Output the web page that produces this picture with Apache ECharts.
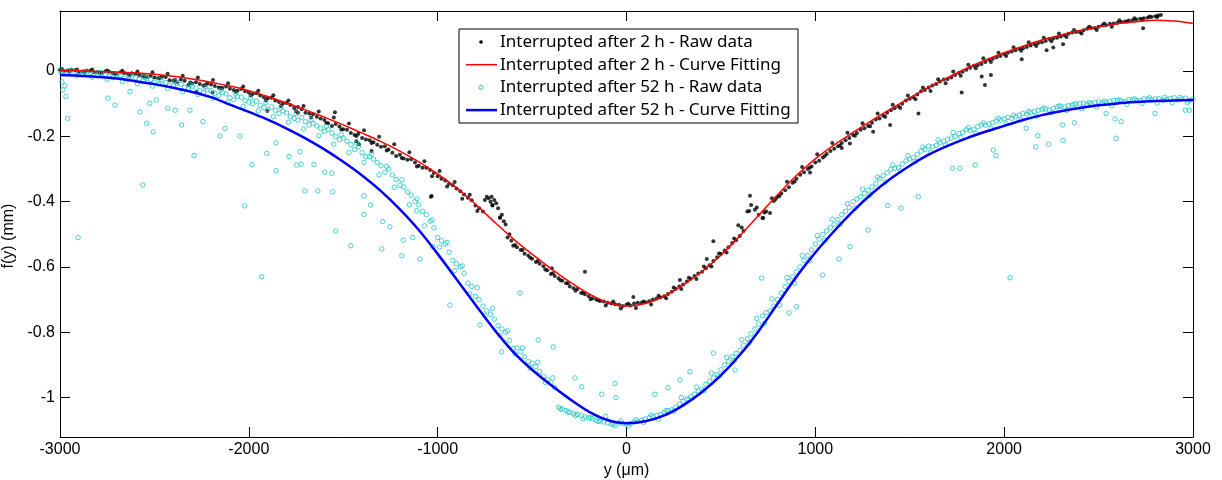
<!DOCTYPE html>
<html>
<head>
<meta charset="utf-8">
<script src="https://cdn.jsdelivr.net/npm/echarts@6/dist/echarts.min.js"></script>
<style>html,body{margin:0;padding:0;background:#fff;}#chart{width:1222px;height:480px;}</style>
</head>
<body>
<div id="chart"></div>
<script>
// ---- Data ----
const xTicks = [-3000, -2000, -1000, 0, 1000, 2000, 3000];
const yTicks = [-1, -0.8, -0.6, -0.4, -0.2, 0];

const seriesNames = [
  'Interrupted after 2 h - Raw data',
  'Interrupted after 2 h - Curve Fitting',
  'Interrupted after 52 h - Raw data',
  'Interrupted after 52 h - Curve Fitting'
];

const fitX = [-3000,-2900,-2800,-2700,-2600,-2500,-2400,-2300,-2200,-2100,-2000,-1900,-1800,-1700,-1600,-1500,-1400,-1300,-1200,-1100,-1000,-900,-800,-700,-600,-500,-400,-300,-200,-100,0,100,200,300,400,500,600,700,800,900,1000,1100,1200,1300,1400,1500,1600,1700,1800,1900,2000,2100,2200,2300,2400,2500,2600,2700,2800,2900,3000];
const fit2h = [0.002,0.001,-0.001,-0.003,-0.006,-0.010,-0.016,-0.024,-0.034,-0.046,-0.060,-0.078,-0.098,-0.119,-0.141,-0.165,-0.190,-0.216,-0.245,-0.278,-0.315,-0.358,-0.408,-0.462,-0.514,-0.561,-0.605,-0.646,-0.682,-0.709,-0.720,-0.712,-0.689,-0.655,-0.614,-0.564,-0.505,-0.442,-0.379,-0.320,-0.269,-0.226,-0.188,-0.151,-0.116,-0.082,-0.050,-0.020,0.008,0.033,0.056,0.076,0.095,0.110,0.124,0.135,0.145,0.151,0.156,0.153,0.146];
const fit52h = [-0.012,-0.014,-0.018,-0.023,-0.031,-0.040,-0.051,-0.064,-0.080,-0.103,-0.125,-0.149,-0.176,-0.206,-0.240,-0.278,-0.320,-0.368,-0.424,-0.487,-0.560,-0.638,-0.716,-0.792,-0.860,-0.915,-0.962,-1.005,-1.043,-1.069,-1.079,-1.073,-1.055,-1.024,-0.983,-0.932,-0.870,-0.796,-0.713,-0.630,-0.556,-0.490,-0.429,-0.375,-0.329,-0.290,-0.256,-0.229,-0.206,-0.186,-0.168,-0.150,-0.135,-0.123,-0.113,-0.105,-0.099,-0.095,-0.092,-0.090,-0.089];

const raw2h = [
[-3000,0.004],[-2960,0.002],[-2920,0.003],[-2880,-0.001],[-2840,0.001],
[-2800,-0.003],[-2760,-0.001],[-2720,-0.006],[-2680,-0.004],[-2640,-0.010],
[-2600,-0.009],[-2560,-0.016],[-2520,-0.014],[-2480,-0.022],[-2440,-0.018],
[-2400,-0.030],[-2360,-0.026],[-2320,-0.042],[-2280,-0.034],[-2240,-0.045],
[-2200,-0.041],[-2160,-0.050],[-2120,-0.047],[-2080,-0.058],[-2040,-0.055],
[-2000,-0.066],[-1960,-0.068],[-1920,-0.080],[-1880,-0.082],[-1840,-0.095],
[-1800,-0.098],[-1760,-0.113],[-1720,-0.117],[-1680,-0.130],[-1640,-0.140],
[-1600,-0.150],[-1560,-0.168],[-1520,-0.170],[-1480,-0.180],[-1440,-0.196],
[-1400,-0.205],[-1360,-0.212],[-1320,-0.226],[-1280,-0.230],[-1240,-0.250],
[-1200,-0.256],[-1160,-0.272],[-1120,-0.280],[-1080,-0.296],[-1040,-0.303],
[-1000,-0.322],[-960,-0.335],[-920,-0.350],[-880,-0.368],[-840,-0.388],
[-800,-0.412],[-760,-0.430],[-720,-0.400],[-680,-0.420],[-640,-0.470],
[-740,-0.385],[-700,-0.395],[-660,-0.440],[-620,-0.500],[-710,-0.410],[-670,-0.450],
[-600,-0.535],[-560,-0.548],[-520,-0.565],[-480,-0.585],[-440,-0.598],
[-400,-0.622],[-360,-0.635],[-320,-0.650],[-280,-0.665],[-240,-0.680],
[-200,-0.690],[-160,-0.700],[-120,-0.706],[-80,-0.712],[-40,-0.716],
[0,-0.716],[40,-0.712],[80,-0.710],[120,-0.705],[160,-0.697],
[200,-0.690],[240,-0.676],[280,-0.660],[320,-0.645],[360,-0.628],
[400,-0.615],[440,-0.595],[480,-0.570],[520,-0.550],[560,-0.527],
[600,-0.505],[620,-0.490],[640,-0.430],[660,-0.410],[680,-0.425],[700,-0.440],[720,-0.450],[740,-0.430],[760,-0.435],[780,-0.398],
[800,-0.385],[840,-0.365],[880,-0.342],[920,-0.318],[960,-0.300],
[1000,-0.280],[1040,-0.265],[1080,-0.245],[1120,-0.230],[1160,-0.212],
[1200,-0.196],[1240,-0.180],[1280,-0.168],[1320,-0.148],[1360,-0.137],
[1400,-0.120],[1440,-0.108],[1480,-0.090],[1520,-0.080],[1560,-0.062],
[1600,-0.050],[1640,-0.040],[1680,-0.026],[1720,-0.020],[1760,-0.006],
[1800,0.004],[1840,0.016],[1880,0.022],[1920,0.035],[1960,0.042],
[2000,0.052],[2040,0.060],[2080,0.068],[2120,0.074],[2160,0.083],
[2200,0.088],[2240,0.098],[2280,0.102],[2320,0.110],[2360,0.118],
[2400,0.120],[2440,0.130],[2480,0.132],[2520,0.140],[2560,0.145],
[2600,0.148],[2640,0.152],[2680,0.156],[2720,0.160],[2760,0.163],[2800,0.168],[2830,0.172],
[-2980,0.001],[-2940,0.004],[-2900,-0.002],[-2860,0.002],[-2820,-0.004],
[-2780,-0.005],[-2740,-0.002],[-2700,-0.008],[-2660,-0.006],[-2620,-0.007],
[-2580,-0.012],[-2540,-0.018],[-2500,-0.020],[-2460,-0.017],[-2420,-0.028],
[-2380,-0.034],[-2340,-0.030],[-2300,-0.038],[-2260,-0.040],[-2220,-0.038],
[-2180,-0.046],[-2140,-0.052],[-2100,-0.054],[-2060,-0.060],[-2020,-0.062],
[-1980,-0.070],[-1940,-0.075],[-1900,-0.083],[-1860,-0.090],[-1820,-0.100],
[-1780,-0.104],[-1740,-0.110],[-1700,-0.128],[-1660,-0.132],[-1620,-0.145],
[-1580,-0.160],[-1540,-0.162],[-1500,-0.178],[-1460,-0.190],[-1420,-0.192],
[-1380,-0.210],[-1340,-0.218],[-1300,-0.232],[-1260,-0.240],[-1220,-0.260],
[-1180,-0.268],[-1140,-0.270],[-1100,-0.290],[-1060,-0.296],[-1020,-0.312],
[-980,-0.330],[-940,-0.345],[-900,-0.360],[-860,-0.378],[-820,-0.396],
[-780,-0.420],[-730,-0.390],[-690,-0.405],[-650,-0.460],[-610,-0.520],
[-580,-0.540],[-540,-0.560],[-500,-0.575],[-460,-0.590],[-420,-0.610],
[-380,-0.628],[-340,-0.642],[-300,-0.660],[-260,-0.668],[-220,-0.684],
[-180,-0.696],[-140,-0.704],[-100,-0.710],[-60,-0.714],[-20,-0.720],
[20,-0.718],[60,-0.710],[100,-0.708],[140,-0.700],[180,-0.694],
[220,-0.683],[260,-0.668],[300,-0.654],[340,-0.636],[380,-0.620],
[420,-0.604],[460,-0.582],[500,-0.560],[540,-0.540],[580,-0.518],
[790,-0.392],[820,-0.375],[860,-0.356],[900,-0.330],[940,-0.310],[980,-0.292],
[1020,-0.275],[1060,-0.254],[1100,-0.238],[1140,-0.220],[1180,-0.205],
[1220,-0.190],[1260,-0.175],[1300,-0.158],[1340,-0.145],[1380,-0.128],
[1420,-0.114],[1460,-0.100],[1500,-0.085],[1540,-0.072],[1580,-0.058],
[1620,-0.044],[1660,-0.032],[1700,-0.024],[1740,-0.012],[1780,-0.002],
[1820,0.010],[1860,0.018],[1900,0.028],[1940,0.038],[1980,0.046],
[2020,0.056],[2060,0.064],[2100,0.070],[2140,0.078],[2180,0.086],
[2220,0.092],[2260,0.100],[2300,0.106],[2340,0.114],[2380,0.120],
[2420,0.125],[2460,0.132],[2500,0.136],[2540,0.140],[2580,0.146],
[2620,0.150],[2660,0.155],[2700,0.158],[2740,0.162],[2780,0.166],[2815,0.170],
[-2990,0.006],[-2950,-0.003],[-2910,0.005],[-2870,-0.005],[-2830,0.005],[-2790,-0.007],[-2750,0.002],[-2710,-0.009],
[-2670,0.001],[-2630,-0.012],[-2590,-0.001],[-2550,-0.016],[-2510,-0.004],[-2470,-0.021],[-2430,-0.008],[-2390,-0.027],
[-2350,-0.014],[-2310,-0.035],[-2270,-0.020],[-2230,-0.043],[-2190,-0.027],[-2150,-0.052],[-2110,-0.037],[-2070,-0.063],
[-2030,-0.047],[-1990,-0.075],[-1950,-0.060],[-1910,-0.090],[-1870,-0.074],[-1830,-0.107],[-1790,-0.090],[-1750,-0.123],
[-1710,-0.107],[-1670,-0.142],[-1630,-0.124],[-1590,-0.159],[-1550,-0.142],[-1510,-0.179],[-1470,-0.161],[-1430,-0.199],
[-1390,-0.181],[-1350,-0.220],[-1310,-0.201],[-1270,-0.243],[-1230,-0.224],[-1190,-0.266],[-1150,-0.249],[-1110,-0.292],
[-1070,-0.276],[-1030,-0.322],[-990,-0.306],[-950,-0.354],[-910,-0.340],[-870,-0.391],[-830,-0.379],[-790,-0.429],
[-750,-0.395],[-710,-0.412],[-670,-0.448],[-630,-0.510],[-590,-0.533],[-550,-0.548],[-510,-0.572],[-470,-0.582],
[-430,-0.608],[-390,-0.619],[-350,-0.641],[-310,-0.650],[-270,-0.673],[-230,-0.679],[-190,-0.699],[-150,-0.702],
[-110,-0.718],[-70,-0.706],[-30,-0.727],[10,-0.713],[50,-0.726],[90,-0.706],[130,-0.715],[170,-0.688],
[210,-0.696],[250,-0.663],[290,-0.668],[330,-0.633],[370,-0.637],[410,-0.599],[450,-0.599],[490,-0.559],
[530,-0.556],[570,-0.513],[610,-0.479],[650,-0.429],[690,-0.418],[730,-0.433],[770,-0.390],[810,-0.383],
[850,-0.339],[890,-0.338],[930,-0.294],[970,-0.296],[1010,-0.255],[1050,-0.260],[1090,-0.220],[1130,-0.228],
[1170,-0.189],[1210,-0.198],[1250,-0.160],[1290,-0.169],[1330,-0.130],[1370,-0.140],[1410,-0.103],[1450,-0.113],
[1490,-0.075],[1530,-0.086],[1570,-0.050],[1610,-0.061],[1650,-0.025],[1690,-0.037],[1730,-0.001],[1770,-0.014],
[1810,0.019],[1850,0.009],[1890,0.039],[1930,0.028],[1970,0.056],[2010,0.046],[2050,0.073],[2090,0.062],
[2130,0.088],[2170,0.077],[2210,0.102],[2250,0.091],[2290,0.115],[2330,0.104],[2370,0.126],[2410,0.115],
[2450,0.136],[2490,0.126],[2530,0.146],[2570,0.136],[2610,0.156],[2650,0.152],[2690,0.162],[2730,0.159],
[2770,0.167],[2810,0.166],
[-2276,-0.063],[-2192,-0.066],[-1902,-0.122],[-1740,-0.128],[-1544,-0.126],
[-1417,-0.224],[-1430,-0.215],[-1350,-0.245],[-1036,-0.385],[-1032,-0.383],
[-714,-0.385],[-396,-0.604],[-220,-0.615],[36,-0.692],[283,-0.640],
[425,-0.576],[460,-0.521],[592,-0.472],[654,-0.382],[724,-0.450],
[972,-0.311],[1140,-0.236],[1183,-0.222],[1306,-0.186],[1396,-0.165],
[1546,-0.130],[1775,-0.066],[1881,-0.017],[1898,-0.043],[1930,-0.012],
[2093,0.036],[2225,0.064],[2260,0.072],[2312,0.082],[2736,0.131]
];

const raw52h = [
[-3000,0.002],[-2960,-0.004],[-2920,0.000],[-2880,-0.008],[-2840,-0.005],
[-2800,-0.012],[-2760,-0.010],[-2720,-0.020],[-2680,-0.014],[-2640,-0.026],
[-2600,-0.020],[-2560,-0.030],[-2520,-0.026],[-2480,-0.040],[-2440,-0.035],
[-2400,-0.045],[-2360,-0.040],[-2320,-0.055],[-2280,-0.052],[-2240,-0.066],
[-2200,-0.060],[-2160,-0.075],[-2120,-0.070],[-2080,-0.088],[-2040,-0.080],
[-2000,-0.095],[-1960,-0.092],[-1920,-0.112],[-1880,-0.110],[-1840,-0.130],
[-1800,-0.128],[-1760,-0.145],[-1720,-0.142],[-1680,-0.165],[-1640,-0.168],
[-1600,-0.185],[-1560,-0.190],[-1520,-0.210],[-1480,-0.215],[-1440,-0.240],
[-1400,-0.250],[-1360,-0.262],[-1320,-0.280],[-1280,-0.310],[-1240,-0.318],
[-1200,-0.350],[-1160,-0.370],[-1120,-0.400],[-1080,-0.430],[-1040,-0.460],
[-1000,-0.510],[-960,-0.530],[-920,-0.580],[-880,-0.600],[-840,-0.650],
[-800,-0.690],[-760,-0.720],[-720,-0.745],[-680,-0.780],[-640,-0.800],
[-600,-0.850],[-560,-0.860],[-520,-0.890],[-480,-0.905],[-440,-0.935],
[-400,-0.955],[-360,-1.030],[-320,-1.040],[-280,-1.050],[-240,-1.055],
[-200,-1.062],[-160,-1.070],[-120,-1.075],[-80,-1.082],[-40,-1.078],
[0,-1.082],[40,-1.075],[80,-1.070],[120,-1.062],[160,-1.055],
[200,-1.045],[240,-1.038],[280,-1.020],[320,-1.005],[360,-0.990],
[400,-0.975],[440,-0.950],[480,-0.930],[520,-0.900],[560,-0.875],
[600,-0.855],[640,-0.820],[680,-0.790],[720,-0.750],[760,-0.735],
[800,-0.700],[840,-0.660],[880,-0.630],[920,-0.600],[960,-0.565],
[1000,-0.530],[1040,-0.500],[1080,-0.480],[1120,-0.455],[1160,-0.430],
[1200,-0.400],[1240,-0.385],[1280,-0.365],[1320,-0.345],[1360,-0.320],
[1400,-0.300],[1440,-0.295],[1480,-0.275],[1520,-0.265],[1560,-0.245],
[1600,-0.230],[1640,-0.228],[1680,-0.215],[1720,-0.205],[1760,-0.192],
[1800,-0.180],[1840,-0.178],[1880,-0.165],[1920,-0.162],[1960,-0.152],
[2000,-0.146],[2040,-0.145],[2080,-0.135],[2120,-0.132],[2160,-0.124],
[2200,-0.118],[2240,-0.120],[2280,-0.110],[2320,-0.110],[2360,-0.104],
[2400,-0.100],[2440,-0.103],[2480,-0.096],[2520,-0.098],[2560,-0.092],
[2600,-0.090],[2640,-0.094],[2680,-0.088],[2720,-0.090],[2760,-0.086],
[2800,-0.085],[2840,-0.090],[2880,-0.084],[2920,-0.088],[2960,-0.083],[3000,-0.086],
[-2980,-0.002],[-2940,0.003],[-2900,-0.006],[-2860,-0.003],[-2820,-0.012],
[-2780,-0.006],[-2740,-0.016],[-2700,-0.012],[-2660,-0.022],[-2620,-0.018],
[-2580,-0.025],[-2540,-0.022],[-2500,-0.035],[-2460,-0.030],[-2420,-0.044],
[-2380,-0.038],[-2340,-0.050],[-2300,-0.046],[-2260,-0.060],[-2220,-0.058],
[-2180,-0.068],[-2140,-0.065],[-2100,-0.082],[-2060,-0.078],[-2020,-0.090],
[-1980,-0.100],[-1940,-0.105],[-1900,-0.118],[-1860,-0.120],[-1820,-0.122],
[-1780,-0.140],[-1740,-0.150],[-1700,-0.155],[-1660,-0.160],[-1620,-0.175],
[-1580,-0.178],[-1540,-0.200],[-1500,-0.205],[-1460,-0.225],[-1420,-0.232],
[-1380,-0.262],[-1340,-0.270],[-1300,-0.290],[-1260,-0.300],[-1220,-0.332],
[-1180,-0.355],[-1140,-0.380],[-1100,-0.410],[-1060,-0.440],[-1020,-0.480],
[-980,-0.520],[-940,-0.555],[-900,-0.590],[-860,-0.620],[-820,-0.660],
[-780,-0.700],[-740,-0.735],[-700,-0.760],[-660,-0.790],[-620,-0.825],
[-580,-0.848],[-540,-0.875],[-500,-0.895],[-460,-0.920],[-420,-0.945],
[-380,-0.970],[-340,-1.035],[-300,-1.045],[-260,-1.052],[-220,-1.060],
[-180,-1.065],[-140,-1.072],[-100,-1.078],[-60,-1.085],[-20,-1.080],
[20,-1.080],[60,-1.074],[100,-1.066],[140,-1.058],[180,-1.052],
[220,-1.040],[260,-1.030],[300,-1.012],[340,-0.998],[380,-0.980],
[420,-0.960],[460,-0.940],[500,-0.915],[540,-0.890],[580,-0.865],
[620,-0.840],[660,-0.805],[700,-0.775],[740,-0.740],[780,-0.720],
[820,-0.680],[860,-0.645],[900,-0.615],[940,-0.580],[980,-0.548],
[1020,-0.515],[1060,-0.490],[1100,-0.470],[1140,-0.440],[1180,-0.418],
[1220,-0.392],[1260,-0.375],[1300,-0.355],[1340,-0.330],[1380,-0.312],
[1420,-0.298],[1460,-0.285],[1500,-0.270],[1540,-0.255],[1580,-0.240],
[1620,-0.232],[1660,-0.220],[1700,-0.210],[1740,-0.200],[1780,-0.188],
[1820,-0.182],[1860,-0.170],[1900,-0.166],[1940,-0.158],[1980,-0.150],
[2020,-0.142],[2060,-0.140],[2100,-0.130],[2140,-0.128],[2180,-0.120],
[2220,-0.116],[2260,-0.114],[2300,-0.108],[2340,-0.106],[2380,-0.100],
[2420,-0.098],[2460,-0.100],[2500,-0.094],[2540,-0.095],[2580,-0.090],
[2620,-0.092],[2660,-0.087],[2700,-0.090],[2740,-0.085],[2780,-0.088],
[2820,-0.084],[2860,-0.087],[2900,-0.082],[2940,-0.085],[2980,-0.090],
[-2990,-0.006],[-2950,0.002],[-2910,-0.014],[-2870,-0.001],[-2830,-0.019],[-2790,-0.004],[-2750,-0.025],[-2710,-0.009],
[-2670,-0.032],[-2630,-0.014],[-2590,-0.039],[-2550,-0.020],[-2510,-0.046],[-2470,-0.026],[-2430,-0.054],[-2390,-0.033],
[-2350,-0.063],[-2310,-0.042],[-2270,-0.072],[-2230,-0.050],[-2190,-0.083],[-2150,-0.059],[-2110,-0.095],[-2070,-0.070],
[-2030,-0.108],[-1990,-0.082],[-1950,-0.122],[-1910,-0.097],[-1870,-0.140],[-1830,-0.112],[-1790,-0.157],[-1750,-0.130],
[-1710,-0.177],[-1670,-0.149],[-1630,-0.198],[-1590,-0.170],[-1550,-0.224],[-1510,-0.195],[-1470,-0.250],[-1430,-0.220],
[-1390,-0.280],[-1350,-0.254],[-1310,-0.318],[-1270,-0.292],[-1230,-0.356],[-1190,-0.333],[-1150,-0.410],[-1110,-0.392],
[-1070,-0.474],[-1030,-0.456],[-990,-0.539],[-950,-0.525],[-910,-0.611],[-870,-0.597],[-830,-0.683],[-790,-0.663],
[-750,-0.750],[-710,-0.727],[-670,-0.809],[-630,-0.796],[-590,-0.866],[-550,-0.848],[-510,-0.910],[-470,-0.892],
[-430,-0.954],[-390,-0.940],[-350,-1.035],[-310,-1.045],[-270,-1.055],[-230,-1.065],[-190,-1.062],[-150,-1.073],
[-110,-1.058],[-70,-1.081],[-30,-1.072],[10,-1.087],[50,-1.068],[90,-1.076],[130,-1.054],[170,-1.067],
[210,-1.040],[250,-1.042],[290,-1.000],[330,-1.005],[370,-0.968],[410,-0.979],[450,-0.925],[490,-0.934],
[530,-0.877],[570,-0.888],[610,-0.823],[650,-0.833],[690,-0.758],[730,-0.773],[770,-0.698],[810,-0.717],
[850,-0.633],[890,-0.649],[930,-0.565],[970,-0.581],[1010,-0.504],[1050,-0.519],[1090,-0.454],[1130,-0.469],
[1170,-0.406],[1210,-0.420],[1250,-0.362],[1290,-0.380],[1330,-0.325],[1370,-0.340],[1410,-0.288],[1450,-0.306],
[1490,-0.259],[1530,-0.277],[1570,-0.233],[1610,-0.249],[1650,-0.211],[1690,-0.226],[1730,-0.188],[1770,-0.203],
[1810,-0.173],[1850,-0.190],[1890,-0.159],[1930,-0.176],[1970,-0.145],[2010,-0.161],[2050,-0.135],[2090,-0.149],
[2130,-0.124],[2170,-0.138],[2210,-0.113],[2250,-0.128],[2290,-0.107],[2330,-0.121],[2370,-0.102],[2410,-0.115],
[2450,-0.096],[2490,-0.110],[2530,-0.092],[2570,-0.106],[2610,-0.088],[2650,-0.102],[2690,-0.085],[2730,-0.099],
[2770,-0.082],[2810,-0.098],[2850,-0.081],[2890,-0.097],[2930,-0.081],[2970,-0.096],
[-2990,-0.033],[-2985,-0.058],[-2974,-0.045],[-2969,-0.078],[-2960,-0.145],[-2904,-0.510],
[-2746,-0.083],[-2709,-0.104],[-2629,-0.063],[-2577,-0.125],[-2562,-0.349],[-2541,-0.160],
[-2524,-0.099],[-2506,-0.186],[-2490,-0.089],[-2430,-0.114],[-2390,-0.120],[-2356,-0.165],
[-2312,-0.120],[-2290,-0.259],[-2243,-0.155],[-2153,-0.199],[-2126,-0.176],[-2047,-0.200],
[-2022,-0.413],[-1983,-0.287],[-1932,-0.630],[-1905,-0.252],[-1856,-0.220],[-1855,-0.305],
[-1787,-0.262],[-1747,-0.288],[-1729,-0.247],[-1723,-0.285],[-1703,-0.367],[-1655,-0.286],
[-1635,-0.367],[-1598,-0.310],[-1561,-0.313],[-1556,-0.370],[-1540,-0.490],[-1460,-0.535],
[-1390,-0.382],[-1390,-0.439],[-1355,-0.410],[-1296,-0.545],[-1291,-0.461],[-1253,-0.477],
[-1190,-0.566],[-1182,-0.518],[-1132,-0.510],[-1111,-0.428],[-1094,-0.576],[-1025,-0.538],
[-935,-0.717],[-776,-0.778],[-661,-0.860],[-564,-0.680],[-468,-0.824],[-388,-0.845],
[-273,-0.940],[-237,-0.967],[-131,-0.990],[-61,-0.957],[-56,-1.000],[151,-0.990],
[220,-0.970],[283,-0.946],[336,-0.921],[460,-0.864],[575,-0.916],[716,-0.634],
[861,-0.741],[901,-0.722],[1039,-0.625],[1125,-0.576],[1184,-0.538],[1280,-0.487],
[1383,-0.412],[1454,-0.420],[1546,-0.385],[1727,-0.298],[1766,-0.298],[1846,-0.288],
[1943,-0.242],[1957,-0.259],[2031,-0.633],[2117,-0.175],[2167,-0.232],[2178,-0.198],
[2236,-0.224],[2310,-0.165],[2312,-0.213],[2372,-0.158],[2540,-0.130],[2587,-0.147],
[2593,-0.206],[2619,-0.155],[2799,-0.130],[2960,-0.120],[2980,-0.120]
];

// ---- Chart ----
const FONT = '"Liberation Sans", Arial, sans-serif';
const LEGEND_FONT = '17px "Noto Sans", "Liberation Sans", Arial, sans-serif';
const CYAN = '#1fc4c4';
const chart = echarts.init(document.getElementById('chart'), null, {renderer: 'canvas'});

function zip(xs, ys) { return xs.map((x, i) => [x, ys[i]]); }

const baseX = {
  type: 'value', min: -3000, max: 3000, interval: 1000,
  splitLine: {show: false},
  axisLine: {onZero: false, lineStyle: {color: '#000', width: 1}},
  axisTick: {inside: true, length: 10, lineStyle: {color: '#000'}}
};
const baseY = {
  type: 'value', min: -1.121, max: 0.184,
  splitLine: {show: false},
  axisLine: {onZero: false, lineStyle: {color: '#000', width: 1}},
  axisTick: {inside: true, length: 10, customValues: yTicks, lineStyle: {color: '#000'}}
};

const legendTop = 29, legendLeft = 459, rowH = 22.7;
const legendGraphics = [
  {type: 'rect', shape: {x: legendLeft, y: legendTop, width: 339, height: 94},
   style: {fill: '#fff', stroke: '#000', lineWidth: 1}, z: 100},
  {type: 'circle', shape: {cx: 481, cy: legendTop + 13, r: 1.8}, style: {fill: '#000'}, z: 101},
  {type: 'line', shape: {x1: 466, y1: legendTop + 13 + rowH, x2: 497, y2: legendTop + 13 + rowH},
   style: {stroke: '#ff0000', lineWidth: 1.5}, z: 101},
  {type: 'circle', shape: {cx: 481, cy: legendTop + 13 + 2 * rowH, r: 2},
   style: {fill: 'none', stroke: CYAN, lineWidth: 1}, z: 101},
  {type: 'line', shape: {x1: 466, y1: legendTop + 13 + 3 * rowH, x2: 497, y2: legendTop + 13 + 3 * rowH},
   style: {stroke: '#0000ff', lineWidth: 2.5}, z: 101}
];
seriesNames.forEach((n, i) => {
  legendGraphics.push({
    type: 'text', x: 500, y: legendTop + 13 + i * rowH, z: 101,
    style: {text: n, fill: '#000', font: LEGEND_FONT, textVerticalAlign: 'middle', textAlign: 'left'}
  });
});

const option = {
  backgroundColor: '#fff',
  animation: false,
  textStyle: {fontFamily: FONT},
  grid: {left: 60, right: 29, top: 11, bottom: 43, outerBoundsMode: 'none'},
  xAxis: [
    Object.assign({}, baseX, {
      position: 'bottom',
      name: 'y (\u03bcm)', nameLocation: 'middle', nameGap: 20,
      nameTextStyle: {color: '#000', fontSize: 16, fontFamily: FONT},
      axisLabel: {color: '#000', fontSize: 16, margin: 5, fontFamily: FONT,
        customValues: xTicks, formatter: v => String(v)}
    }),
    Object.assign({}, baseX, {position: 'top', axisLabel: {show: false}})
  ],
  yAxis: [
    Object.assign({}, baseY, {
      position: 'left',
      name: 'f(y) (mm)', nameLocation: 'middle', nameGap: 32, nameRotate: 90,
      nameTextStyle: {color: '#000', fontSize: 16, fontFamily: FONT, padding: [0, 24, 0, 0]},
      axisLabel: {color: '#000', fontSize: 16, margin: 5, fontFamily: FONT, customValues: yTicks,
        formatter: v => String(v)}
    }),
    Object.assign({}, baseY, {position: 'right', axisLabel: {show: false}})
  ],
  graphic: legendGraphics,
  series: [
    {name: seriesNames[0], type: 'scatter', data: raw2h, symbol: 'circle', symbolSize: 4,
     itemStyle: {color: '#000'}, xAxisIndex: 0, yAxisIndex: 0, silent: true},
    {name: seriesNames[1], type: 'line', data: zip(fitX, fit2h), symbol: 'none', smooth: 0.3,
     lineStyle: {color: '#ff0000', width: 1.5}, xAxisIndex: 0, yAxisIndex: 0, silent: true},
    {name: seriesNames[2], type: 'scatter', data: raw52h, symbol: 'circle', symbolSize: 4.5,
     itemStyle: {color: 'rgba(0,0,0,0)', borderColor: CYAN, borderWidth: 1}, xAxisIndex: 0, yAxisIndex: 0, silent: true},
    {name: seriesNames[3], type: 'line', data: zip(fitX, fit52h), symbol: 'none', smooth: 0.3,
     lineStyle: {color: '#0000ff', width: 2.5}, xAxisIndex: 0, yAxisIndex: 0, silent: true}
  ]
};
chart.setOption(option);
</script>
</body>
</html>
